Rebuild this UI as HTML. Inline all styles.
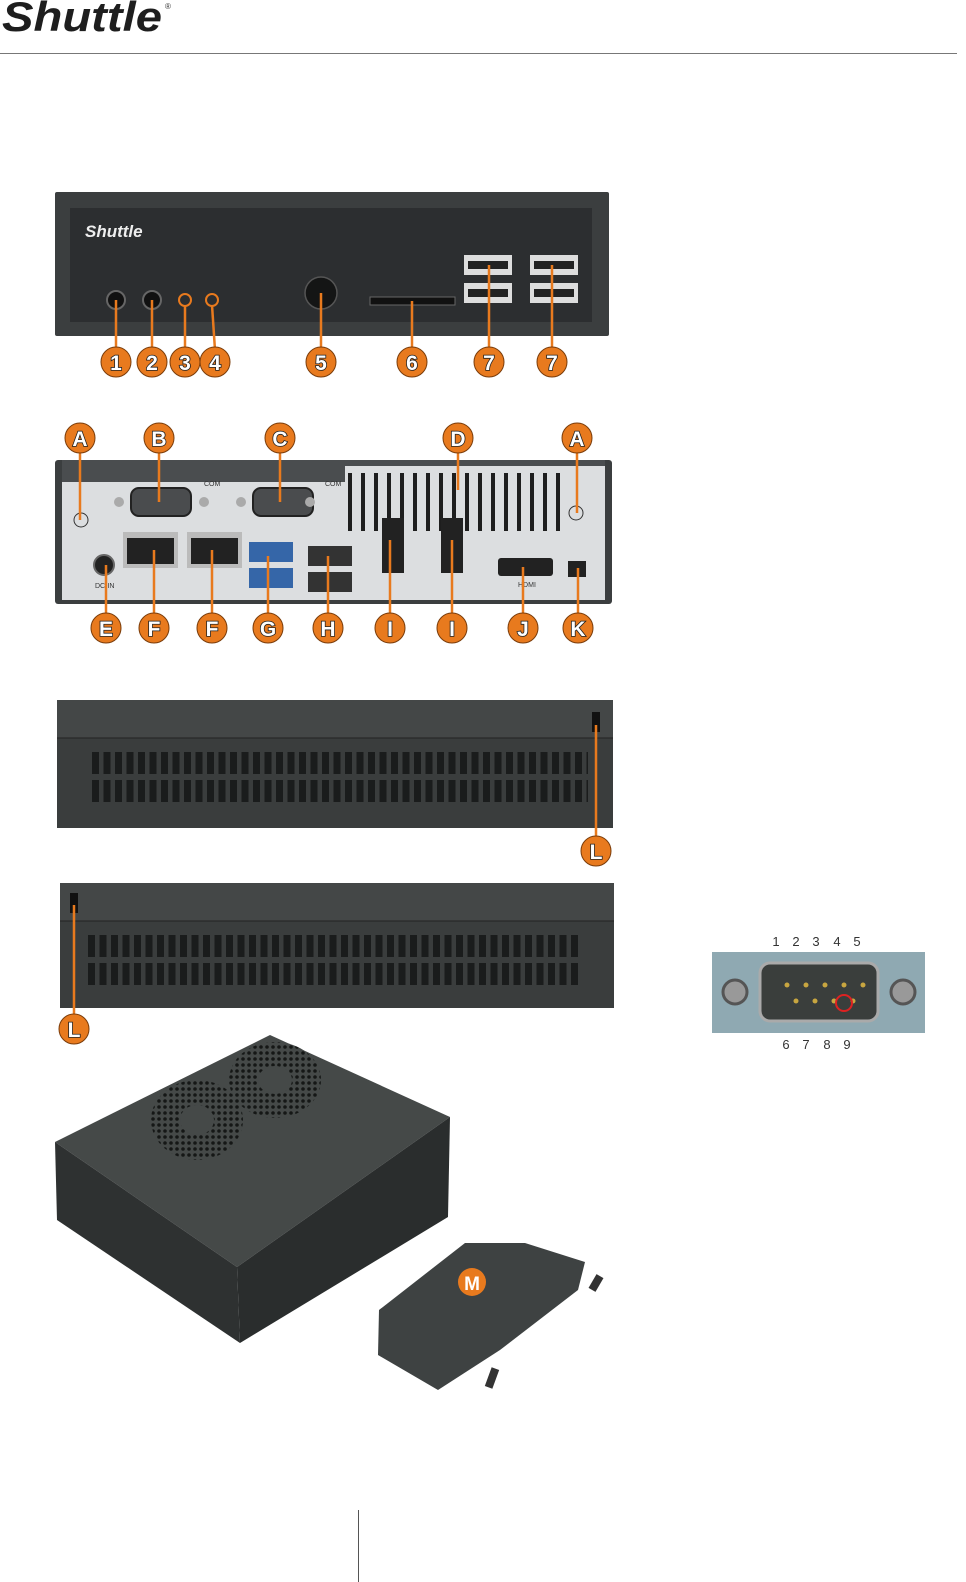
<!DOCTYPE html>
<html><head><meta charset="utf-8"><style>
html,body{margin:0;padding:0;background:#fff;}
svg{display:block}
.lb{font-family:"Liberation Sans",sans-serif;font-weight:bold;font-size:21px;fill:#fff;stroke:#222;stroke-width:1.6px;paint-order:stroke;text-anchor:middle}
.sm{font-family:"Liberation Sans",sans-serif;font-size:7px;fill:#333}
.num{font-family:"Liberation Sans",sans-serif;font-size:13px;fill:#333;text-anchor:middle}
</style></head><body>
<svg width="966" height="1582" viewBox="0 0 966 1582" xmlns="http://www.w3.org/2000/svg">
<defs>
<pattern id="vent" x="92" y="752" width="11.5" height="28" patternUnits="userSpaceOnUse">
<rect x="0" y="0" width="7" height="22" fill="#1a1c1c"/></pattern>
<pattern id="vent2" x="88" y="935" width="11.5" height="28" patternUnits="userSpaceOnUse">
<rect x="0" y="0" width="7" height="22" fill="#1a1c1c"/></pattern>
<pattern id="dvent" x="348" y="473" width="13" height="60" patternUnits="userSpaceOnUse">
<rect x="0" y="0" width="4" height="58" fill="#1e1e1e"/></pattern>
<pattern id="dots" width="6" height="6" patternUnits="userSpaceOnUse"><rect width="6" height="6" fill="#454948"/><circle cx="3" cy="3" r="1.8" fill="#151716"/></pattern>
</defs>
<!-- header -->
<text x="2" y="31" font-family="Liberation Sans,sans-serif" font-style="italic" font-weight="bold" font-size="42" fill="#1e1e1e" textLength="160" lengthAdjust="spacingAndGlyphs">Shuttle</text>
<text x="165" y="9" font-family="Liberation Sans,sans-serif" font-size="8" fill="#333">®</text>
<line x1="0" y1="53.5" x2="957" y2="53.5" stroke="#777" stroke-width="1"/>

<!-- front panel -->
<rect x="55" y="192" width="554" height="144" fill="#3b3e3f" rx="2"/>
<rect x="70" y="208" width="522" height="114" fill="#2c2e30"/>
<text x="85" y="237" font-family="Liberation Sans,sans-serif" font-style="italic" font-weight="bold" font-size="17" fill="#eee">Shuttle</text>
<circle cx="116" cy="300" r="9" fill="#111" stroke="#666" stroke-width="2"/>
<circle cx="152" cy="300" r="9" fill="#111" stroke="#666" stroke-width="2"/>
<circle cx="185" cy="300" r="6" fill="none" stroke="#e87a1e" stroke-width="2"/>
<circle cx="212" cy="300" r="6" fill="none" stroke="#e87a1e" stroke-width="2"/>
<circle cx="321" cy="293" r="16" fill="#141515" stroke="#555" stroke-width="1.5"/>
<rect x="370" y="297" width="85" height="8" fill="#111" stroke="#666"/>
<rect x="464" y="255" width="48" height="20" fill="#ddd"/><rect x="468" y="261" width="40" height="8" fill="#222"/>
<rect x="464" y="283" width="48" height="20" fill="#ddd"/><rect x="468" y="289" width="40" height="8" fill="#222"/>
<rect x="530" y="255" width="48" height="20" fill="#ddd"/><rect x="534" y="261" width="40" height="8" fill="#222"/>
<rect x="530" y="283" width="48" height="20" fill="#ddd"/><rect x="534" y="289" width="40" height="8" fill="#222"/>
<g stroke="#e87a1e" stroke-width="2.5">
<line x1="116" y1="300" x2="116" y2="350"/><line x1="152" y1="300" x2="152" y2="350"/>
<line x1="185" y1="305" x2="185" y2="350"/><line x1="212" y1="305" x2="215" y2="350"/>
<line x1="321" y1="293" x2="321" y2="350"/><line x1="412" y1="301" x2="412" y2="350"/>
<line x1="489" y1="265" x2="489" y2="350"/><line x1="552" y1="265" x2="552" y2="350"/>
</g>
<g fill="#e87a1e" stroke="#7a3c0a" stroke-width="1">
<circle cx="116" cy="362" r="15"/><circle cx="152" cy="362" r="15"/><circle cx="185" cy="362" r="15"/><circle cx="215" cy="362" r="15"/>
<circle cx="321" cy="362" r="15"/><circle cx="412" cy="362" r="15"/><circle cx="489" cy="362" r="15"/><circle cx="552" cy="362" r="15"/>
</g>
<g class="lb"><text x="116" y="370">1</text><text x="152" y="370">2</text><text x="185" y="370">3</text><text x="215" y="370">4</text><text x="321" y="370">5</text><text x="412" y="370">6</text><text x="489" y="370">7</text><text x="552" y="370">7</text></g>

<!-- rear panel -->
<rect x="55" y="460" width="557" height="144" fill="#3b3e3f" rx="3"/>
<rect x="62" y="472" width="543" height="128" fill="#dcdee0"/>
<rect x="62" y="460" width="543" height="22" fill="#4a4d4f"/>
<rect x="345" y="466" width="260" height="20" fill="#dcdee0"/>
<rect x="345" y="473" width="215" height="60" fill="url(#dvent)"/>
<circle cx="81" cy="520" r="7" fill="none" stroke="#333"/><circle cx="576" cy="513" r="7" fill="none" stroke="#333"/>
<rect x="131" y="488" width="60" height="28" rx="8" fill="#4a4c4e" stroke="#222" stroke-width="2"/>
<rect x="253" y="488" width="60" height="28" rx="8" fill="#4a4c4e" stroke="#222" stroke-width="2"/>
<circle cx="119" cy="502" r="5" fill="#aaa"/><circle cx="204" cy="502" r="5" fill="#aaa"/><circle cx="241" cy="502" r="5" fill="#aaa"/><circle cx="310" cy="502" r="5" fill="#aaa"/>
<text x="204" y="486" class="sm">COM</text><text x="325" y="486" class="sm">COM</text>
<rect x="123" y="532" width="55" height="36" fill="#bbb"/><rect x="127" y="538" width="47" height="26" fill="#222"/>
<rect x="187" y="532" width="55" height="36" fill="#bbb"/><rect x="191" y="538" width="47" height="26" fill="#222"/>
<circle cx="104" cy="565" r="10" fill="#222" stroke="#666" stroke-width="2"/>
<text x="95" y="588" class="sm">DC-IN</text>
<rect x="249" y="542" width="44" height="20" fill="#3566a8"/><rect x="249" y="568" width="44" height="20" fill="#3566a8"/>
<rect x="308" y="546" width="44" height="20" fill="#333"/><rect x="308" y="572" width="44" height="20" fill="#333"/>
<rect x="382" y="518" width="22" height="55" fill="#222"/><rect x="441" y="518" width="22" height="55" fill="#222"/>
<rect x="498" y="558" width="55" height="18" rx="3" fill="#222"/><text x="518" y="587" class="sm">HDMI</text>
<rect x="568" y="561" width="18" height="16" fill="#222"/>
<g stroke="#e87a1e" stroke-width="2.5">
<line x1="80" y1="448" x2="80" y2="520"/><line x1="159" y1="448" x2="159" y2="502"/><line x1="280" y1="448" x2="280" y2="502"/>
<line x1="458" y1="448" x2="458" y2="490"/><line x1="577" y1="448" x2="577" y2="513"/>
<line x1="106" y1="565" x2="106" y2="616"/><line x1="154" y1="550" x2="154" y2="616"/><line x1="212" y1="550" x2="212" y2="616"/>
<line x1="268" y1="556" x2="268" y2="616"/><line x1="328" y1="556" x2="328" y2="616"/><line x1="390" y1="540" x2="390" y2="616"/>
<line x1="452" y1="540" x2="452" y2="616"/><line x1="523" y1="567" x2="523" y2="616"/><line x1="578" y1="568" x2="578" y2="616"/>
</g>
<g fill="#e87a1e" stroke="#7a3c0a" stroke-width="1">
<circle cx="80" cy="438" r="15"/><circle cx="159" cy="438" r="15"/><circle cx="280" cy="438" r="15"/><circle cx="458" cy="438" r="15"/><circle cx="577" cy="438" r="15"/>
<circle cx="106" cy="628" r="15"/><circle cx="154" cy="628" r="15"/><circle cx="212" cy="628" r="15"/><circle cx="268" cy="628" r="15"/><circle cx="328" cy="628" r="15"/><circle cx="390" cy="628" r="15"/><circle cx="452" cy="628" r="15"/><circle cx="523" cy="628" r="15"/><circle cx="578" cy="628" r="15"/>
</g>
<g class="lb"><text x="80" y="446">A</text><text x="159" y="446">B</text><text x="280" y="446">C</text><text x="458" y="446">D</text><text x="577" y="446">A</text>
<text x="106" y="636">E</text><text x="154" y="636">F</text><text x="212" y="636">F</text><text x="268" y="636">G</text><text x="328" y="636">H</text><text x="390" y="636">I</text><text x="452" y="636">I</text><text x="523" y="636">J</text><text x="578" y="636">K</text></g>

<!-- side 1 -->
<rect x="57" y="700" width="556" height="128" fill="#3a3d3d"/>
<rect x="57" y="700" width="556" height="38" fill="#444747"/>
<line x1="57" y1="738" x2="613" y2="738" stroke="#222"/>
<rect x="92" y="752" width="496" height="56" fill="url(#vent)"/>
<rect x="592" y="712" width="8" height="20" fill="#111"/>
<line x1="596" y1="725" x2="596" y2="840" stroke="#e87a1e" stroke-width="2.5"/>
<circle cx="596" cy="851" r="15" fill="#e87a1e" stroke="#7a3c0a"/><text x="596" y="859" class="lb">L</text>
<!-- side 2 -->
<rect x="60" y="883" width="554" height="125" fill="#3a3d3d"/>
<rect x="60" y="883" width="554" height="38" fill="#444747"/>
<line x1="60" y1="921" x2="614" y2="921" stroke="#222"/>
<rect x="88" y="935" width="494" height="56" fill="url(#vent2)"/>
<rect x="70" y="893" width="8" height="20" fill="#111"/>
<line x1="74" y1="905" x2="74" y2="1018" stroke="#e87a1e" stroke-width="2.5"/>
<circle cx="74" cy="1029" r="15" fill="#e87a1e" stroke="#7a3c0a"/><text x="74" y="1037" class="lb">L</text>

<!-- iso view -->
<polygon points="55,1142 270,1035 450,1117 237,1267" fill="#454948"/>
<polygon points="55,1142 237,1267 240,1343 57,1220" fill="#2e3131"/>
<polygon points="237,1267 450,1117 448,1217 240,1343" fill="#2a2d2d"/>
<ellipse cx="197" cy="1120" rx="46" ry="40" fill="url(#dots)"/>
<ellipse cx="197" cy="1120" rx="17" ry="15" fill="#454948"/>
<ellipse cx="275" cy="1080" rx="46" ry="38" fill="url(#dots)"/>
<ellipse cx="275" cy="1080" rx="17" ry="14" fill="#454948"/>
<polygon points="379,1310 465,1243 525,1243 585,1262 578,1290 500,1350 438,1390 378,1355" fill="#3e4242"/>
<circle cx="472" cy="1282" r="14" fill="#e87a1e"/><text x="472" y="1290" class="lb" style="font-size:19px;stroke:none">M</text>
<rect x="592" y="1275" width="8" height="16" fill="#333" transform="rotate(30 596 1283)"/>
<rect x="488" y="1368" width="8" height="20" fill="#333" transform="rotate(20 492 1378)"/>

<!-- DB9 -->
<rect x="712" y="952" width="213" height="81" fill="#8fa9b2"/>
<rect x="760" y="963" width="118" height="58" rx="10" fill="#3a3e3c" stroke="#aaa" stroke-width="3"/>
<circle cx="735" cy="992" r="12" fill="#999" stroke="#555" stroke-width="3"/>
<circle cx="903" cy="992" r="12" fill="#999" stroke="#555" stroke-width="3"/>
<g fill="#c8a640"><circle cx="787" cy="985" r="2.5"/><circle cx="806" cy="985" r="2.5"/><circle cx="825" cy="985" r="2.5"/><circle cx="844" cy="985" r="2.5"/><circle cx="863" cy="985" r="2.5"/>
<circle cx="796" cy="1001" r="2.5"/><circle cx="815" cy="1001" r="2.5"/><circle cx="834" cy="1001" r="2.5"/><circle cx="853" cy="1001" r="2.5"/></g>
<circle cx="844" cy="1003" r="8" fill="none" stroke="#d22" stroke-width="2"/>
<g class="num"><text x="776" y="946">1</text><text x="796" y="946">2</text><text x="816" y="946">3</text><text x="837" y="946">4</text><text x="857" y="946">5</text>
<text x="786" y="1049">6</text><text x="806" y="1049">7</text><text x="827" y="1049">8</text><text x="847" y="1049">9</text></g>

<line x1="358.5" y1="1510" x2="358.5" y2="1582" stroke="#555" stroke-width="1"/>
</svg>
</body></html>
